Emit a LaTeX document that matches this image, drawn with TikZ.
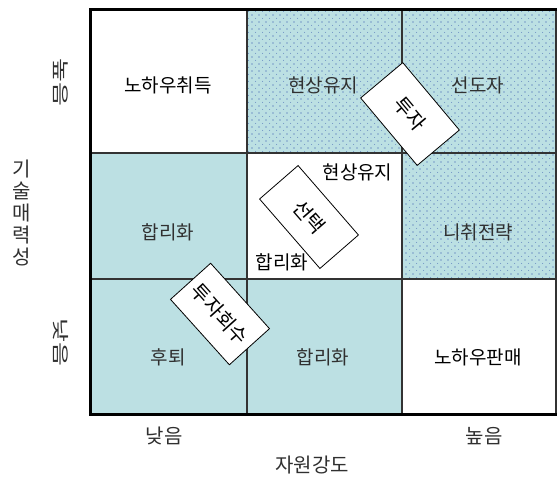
\documentclass[tikz,border=0pt]{standalone}
\usepackage{fontspec}
\setmainfont{Noto Sans CJK KR}
\usetikzlibrary{patterns.meta}
\definecolor{cellcyan}{HTML}{BCE0E3}
\definecolor{dotblue}{HTML}{2A4BA8}
\definecolor{gridgray}{HTML}{333333}
\definecolor{txtgray}{HTML}{303030}
\tikzset{
  cyancell/.style={fill=cellcyan, draw=none},
  dotcell/.style={pattern={Dots[distance=7pt, radius=0.65pt]}, pattern color=dotblue},
  dotcelltwo/.style={pattern={Dots[distance=7pt, radius=0.5pt, xshift=3.5pt, yshift=3.5pt]}, pattern color=dotblue!55!cellcyan},
  gridline/.style={draw=gridgray, line width=1.2pt},
  frameline/.style={draw=black, line width=3pt},
  celltext/.style={font=\fontsize{19}{22}\selectfont, text=txtgray},
  celltextdark/.style={font=\fontsize{19}{22}\selectfont, text=black},
  tiltbox/.style={draw=black, fill=white, line width=0.8pt, font=\fontsize{20}{24}\selectfont, inner sep=0pt},
  axistext/.style={font=\fontsize{20}{24}\selectfont, text=txtgray}
}
\begin{document}
\begin{tikzpicture}[x=1pt, y=-1pt]
\useasboundingbox (0,0) rectangle (557,477);
% cell fills
\fill[cyancell] (247,9) rectangle (556,153);
\fill[cyancell] (402,153) rectangle (556,279);
\fill[cyancell] (90,153) rectangle (247,279);
\fill[cyancell] (90,279) rectangle (402,414);
% dotted pattern
\fill[dotcelltwo] (247,9) rectangle (556,153);
\fill[dotcelltwo] (402,153) rectangle (556,279);
\fill[dotcell] (247,9) rectangle (556,153);
\fill[dotcell] (402,153) rectangle (556,279);
% grid lines
\draw[gridline] (247,9) -- (247,414);
\draw[gridline] (402,9) -- (402,414);
\draw[gridline] (556,9) -- (556,414);
\draw[gridline] (90,153) -- (556,153);
\draw[gridline] (90,279) -- (556,279);
% frame
\draw[frameline] (557,9) -- (90,9) -- (90,414) -- (557,414);
% cell texts
\node[celltextdark] (c11) at (168,85) {노하우취득};
\node[celltext] (c12) at (323,85) {현상유지};
\node[celltext] (c13) at (478,85) {선도자};
\node[celltext] (c21) at (168,232) {합리화};
\node[celltextdark, anchor=east] (c22a) at (396,172) {현상유지};
\node[celltextdark, anchor=west] (c22b) at (252,262) {합리화};
\node[celltext] (c23) at (478,232) {니취전략};
\node[celltext] (c31) at (168,357) {후퇴};
\node[celltext] (c32) at (323,357) {합리화};
\node[celltextdark] (c33) at (478,357) {노하우판매};
% tilted boxes
\node[tiltbox, minimum width=88pt, minimum height=55pt, rotate=-50] (invest) at (410,114) {투자};
\node[tiltbox, minimum width=92pt, minimum height=51pt, rotate=-49] (select) at (309,217) {선택};
\node[tiltbox, minimum width=88pt, minimum height=54pt, rotate=-48] (recover) at (220,314) {투자회수};
% axis labels
\node[axistext, rotate=-90] (yhigh) at (61,82) {\scalebox{1.3}[0.85]{높음}};
\node[axistext, rotate=-90] (ylow) at (61,342) {\scalebox{1.3}[0.85]{낮음}};
\node[axistext, align=center, font=\fontsize{20}{22}\selectfont] (ytitle) at (22,213) {기\\술\\매\\력\\성};
\node[axistext] (xlow) at (164,436) {낮음};
\node[axistext] (xhigh) at (484,436) {높음};
\node[axistext] (xtitle) at (312,465) {자원강도};
\end{tikzpicture}
\end{document}
